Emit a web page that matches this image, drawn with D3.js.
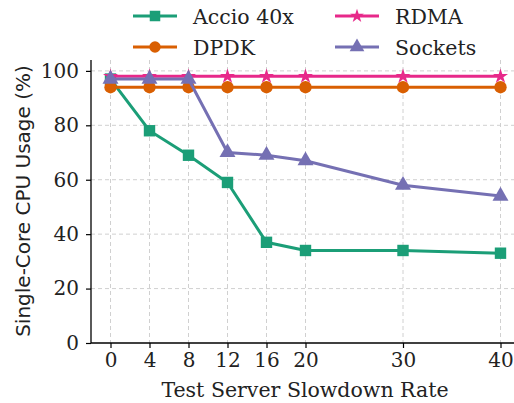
<!DOCTYPE html>
<html>
<head>
<meta charset="utf-8">
<script src="https://cdn.jsdelivr.net/npm/d3@7"></script>
<style>
  body { margin: 0; background: #fff; }
  svg { display: block; }
</style>
</head>
<body>
<svg id="chart"></svg>
<script>
// slowdown rates on x
const slowdown = [0, 4, 8, 12, 16, 20, 30, 40];
const xTicks = [0, 4, 8, 12, 16, 20, 30, 40];
const yTicks = [0, 20, 40, 60, 80, 100];

const accio = [97, 78, 69, 59, 37, 34, 34, 33];
const dpdk = [94, 94, 94, 94, 94, 94, 94, 94];
const rdma = [98, 98, 98, 98, 98, 98, 98, 98];
const sockets = [97, 97, 97, 70, 69, 67, 58, 54];

const series = [
  { name: 'Accio 40x', values: accio, color: '#1b9e77', symbol: d3.symbolSquare, size: 130 },
  { name: 'DPDK', values: dpdk, color: '#d95f02', symbol: d3.symbolCircle, size: 120 },
  { name: 'RDMA', values: rdma, color: '#e7298a', symbol: d3.symbolStar, size: 70 },
  { name: 'Sockets', values: sockets, color: '#7570b3', symbol: d3.symbolTriangle, size: 110 }
];

const W = 514, H = 403;
const svg = d3.select('#chart').attr('width', W).attr('height', H);

const mLeft = 91, mRight = 520, mTop = 60, mBottom = 343;
const serif = 'DejaVu Serif';

const x = d3.scaleLinear().domain([-2, 42]).range([mLeft, mRight]);
const y = d3.scaleLinear().domain([0, 104]).range([mBottom, mTop]);

// grid
const grid = svg.append('g');
grid.selectAll('.gx').data(xTicks).join('line')
  .attr('x1', d => x(d)).attr('x2', d => x(d))
  .attr('y1', mTop).attr('y2', mBottom)
  .attr('stroke', '#d0d0d0').attr('stroke-width', 1).attr('stroke-dasharray', '4,3');
grid.selectAll('.gy').data(yTicks.slice(1)).join('line')
  .attr('x1', mLeft).attr('x2', mRight)
  .attr('y1', d => y(d)).attr('y2', d => y(d))
  .attr('stroke', '#d0d0d0').attr('stroke-width', 1).attr('stroke-dasharray', '4,3');

// axes
const xAxis = d3.axisBottom(x).tickValues(xTicks).tickSize(5).tickPadding(5);
const yAxis = d3.axisLeft(y).tickValues(yTicks).tickSize(5).tickPadding(7);

const gx = svg.append('g').attr('transform', `translate(0,${mBottom})`).call(xAxis);
gx.select('.domain').attr('d', `M${mLeft},0H${mRight}`);
const gy = svg.append('g').attr('transform', `translate(${mLeft},0)`).call(yAxis);
gy.select('.domain').attr('d', `M0,${mTop}V${mBottom}`);

[gx, gy].forEach(g => {
  g.selectAll('.domain').attr('stroke', '#000').attr('stroke-width', 1.3);
  g.selectAll('.tick line').attr('stroke', '#000').attr('stroke-width', 1.2);
  g.selectAll('.tick text')
    .attr('fill', '#222')
    .style('font-family', serif)
    .style('font-size', '20px');
});

// labels
svg.append('text')
  .attr('x', 305).attr('y', 397)
  .attr('text-anchor', 'middle')
  .style('font-family', serif).style('font-size', '20.5px').attr('fill', '#222')
  .text('Test Server Slowdown Rate');

svg.append('text')
  .attr('transform', 'translate(29.5,201) rotate(-90)')
  .attr('text-anchor', 'middle')
  .style('font-family', 'DejaVu Sans').style('font-size', '20px').attr('fill', '#222')
  .text('Single-Core CPU Usage (%)');

// lines + markers
const line = d3.line().x((d, i) => x(slowdown[i])).y(d => y(d));
const plot = svg.append('g');
series.forEach(s => {
  plot.append('path')
    .datum(s.values)
    .attr('d', line)
    .attr('fill', 'none')
    .attr('stroke', s.color)
    .attr('stroke-width', 3);
  plot.selectAll(null).data(s.values).join('path')
    .attr('transform', (d, i) => `translate(${x(slowdown[i])},${y(d)})`)
    .attr('d', d3.symbol(s.symbol, s.size))
    .attr('fill', s.color);
});

// legend
const legendPos = [
  { x: 133, y: 16 }, { x: 133, y: 47 }, { x: 335, y: 16 }, { x: 335, y: 47 }
];
const legend = svg.append('g');
series.forEach((s, i) => {
  const p = legendPos[i];
  const g = legend.append('g').attr('transform', `translate(${p.x},${p.y})`);
  g.append('line').attr('x1', 0).attr('x2', 44).attr('y1', 0).attr('y2', 0)
    .attr('stroke', s.color).attr('stroke-width', 3);
  g.append('path').attr('transform', 'translate(22,0)')
    .attr('d', d3.symbol(s.symbol, s.size * 0.85)).attr('fill', s.color);
  g.append('text').attr('x', 60).attr('y', 8)
    .style('font-family', serif).style('font-size', '20.5px').attr('fill', '#222')
    .text(s.name);
});
</script>
</body>
</html>
